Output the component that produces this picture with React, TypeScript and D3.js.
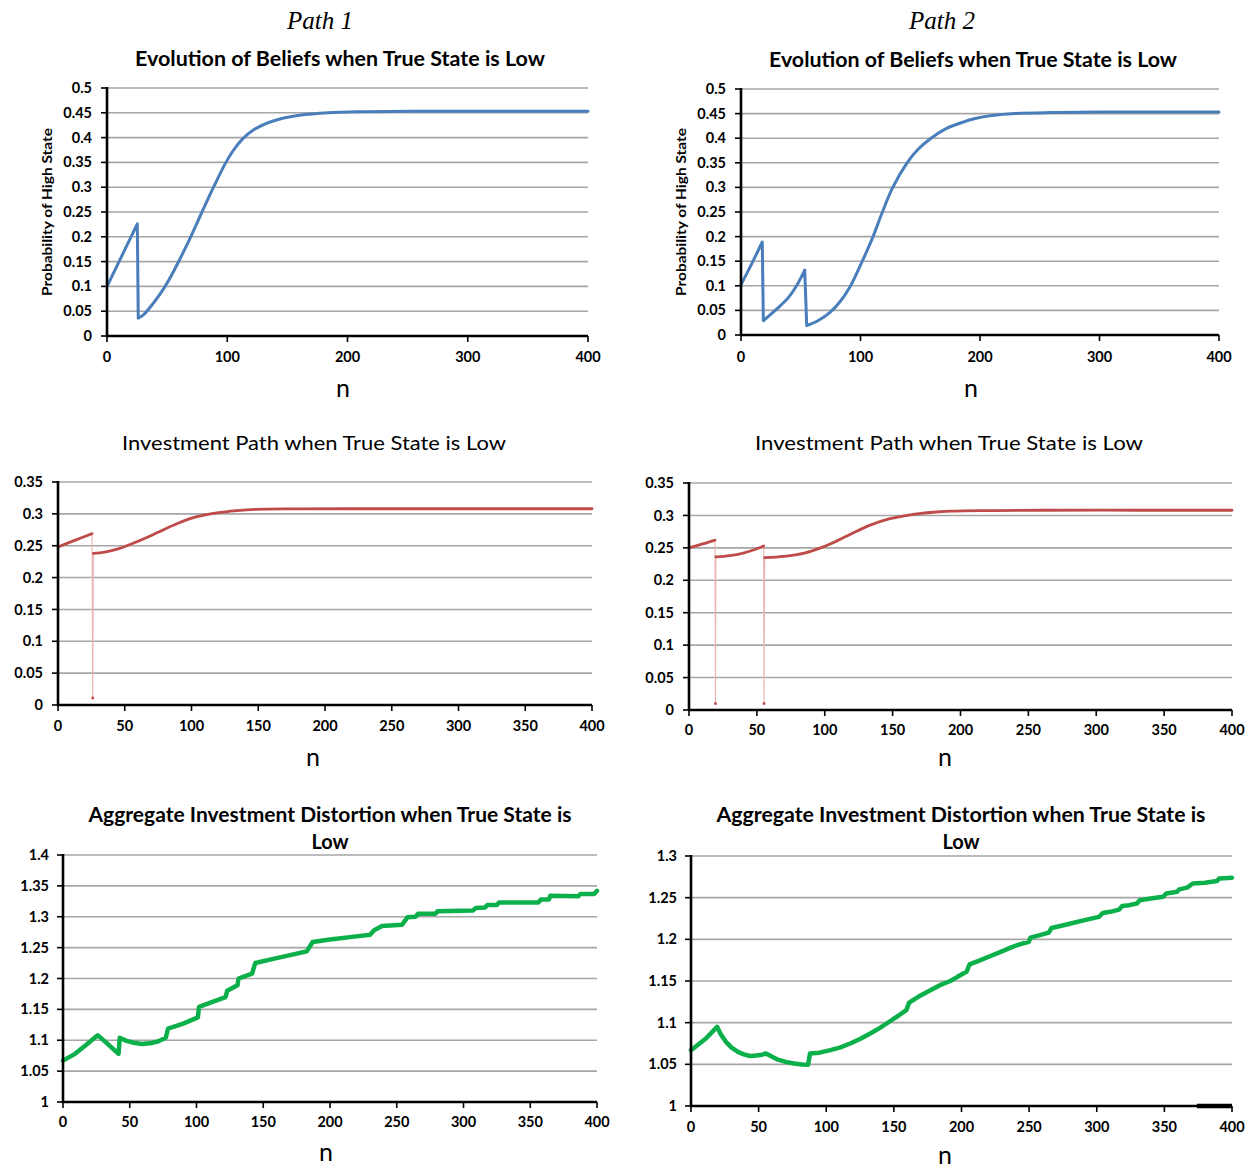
import React from 'react';
import * as d3 from 'd3';

// ---------- DATA ----------
const beliefTicks = [0, 0.05, 0.1, 0.15, 0.2, 0.25, 0.3, 0.35, 0.4, 0.45, 0.5];
const investTicks = [0, 0.05, 0.1, 0.15, 0.2, 0.25, 0.3, 0.35];
const agg1Ticks = [1, 1.05, 1.1, 1.15, 1.2, 1.25, 1.3, 1.35, 1.4];
const agg2Ticks = [1, 1.05, 1.1, 1.15, 1.2, 1.25, 1.3];
const xTicks100 = [0, 100, 200, 300, 400];
const xTicks50 = [0, 50, 100, 150, 200, 250, 300, 350, 400];

const beliefs1N = [0, 5, 10, 15, 20, 25.2, 26, 30, 38.5, 47, 54, 61, 70, 79, 89, 98, 105, 113, 122, 135, 148, 160, 184, 210, 260, 330, 400];
const beliefs1V = [0.1, 0.125, 0.15, 0.175, 0.2, 0.226, 0.036, 0.042, 0.066, 0.095, 0.124, 0.157, 0.202, 0.25, 0.302, 0.346, 0.374, 0.398, 0.416, 0.431, 0.44, 0.445, 0.45, 0.452, 0.453, 0.453, 0.453];

const beliefs2N = [0, 9, 17.8, 18.7, 30, 39.6, 46, 53.3, 55, 65, 74.5, 83, 91, 99.6, 105, 110.5, 118, 127, 139, 148, 159, 172, 185, 196, 210, 229, 260, 300, 400];
const beliefs2V = [0.102, 0.145, 0.189, 0.029, 0.053, 0.076, 0.098, 0.132, 0.019, 0.03, 0.046, 0.068, 0.097, 0.14, 0.169, 0.2, 0.248, 0.3, 0.35, 0.377, 0.4, 0.42, 0.432, 0.44, 0.446, 0.45, 0.452, 0.453, 0.453];

const invest1N = [0, 12, 25.5, 26, 26.5, 35, 45, 60, 75, 89, 104, 119, 134, 148, 178, 220, 300, 400];
const invest1V = [0.248, 0.258, 0.269, 0.011, 0.238, 0.24, 0.245, 0.257, 0.271, 0.2845, 0.2955, 0.3015, 0.305, 0.307, 0.3078, 0.308, 0.308, 0.308];

const invest2N = [0, 10, 19.2, 19.5, 19.8, 30, 40, 48, 55, 55.3, 55.8, 70, 85, 97, 104, 119, 133.5, 148, 163, 178, 193, 222, 260, 330, 400];
const invest2V = [0.25, 0.256, 0.262, 0.01, 0.236, 0.238, 0.242, 0.247, 0.253, 0.01, 0.235, 0.237, 0.242, 0.25, 0.256, 0.271, 0.285, 0.295, 0.301, 0.3045, 0.3065, 0.3075, 0.308, 0.308, 0.308];

const agg1N = [0, 9, 17, 26, 33, 41.6, 42.5, 47.5, 53, 59, 65, 71, 77, 78.7, 90, 101, 101.9, 112, 121.8, 123, 130.7, 131.5, 141.6, 144, 160, 182.6, 187, 200, 215, 230, 233, 239, 254, 258, 264, 266, 279, 280.6, 307, 309, 316, 318, 325, 326.6, 356, 358, 364, 365, 386, 387.6, 398, 400];
const agg1V = [1.067, 1.078, 1.092, 1.108, 1.095, 1.078, 1.104, 1.099, 1.096, 1.094, 1.095, 1.098, 1.104, 1.119, 1.127, 1.137, 1.154, 1.162, 1.17, 1.18, 1.189, 1.2, 1.208, 1.225, 1.233, 1.244, 1.259, 1.263, 1.267, 1.271, 1.278, 1.285, 1.287, 1.299, 1.3, 1.305, 1.305, 1.309, 1.31, 1.314, 1.315, 1.319, 1.319, 1.323, 1.323, 1.328, 1.328, 1.334, 1.333, 1.337, 1.337, 1.342];

const agg2N = [0, 11, 19.3, 22, 25.8, 30, 34.7, 39, 43.6, 48, 52.5, 55.4, 60, 64.3, 70, 76.2, 82, 86.6, 88, 95, 103, 110, 117.7, 125, 132.5, 140, 147.4, 153, 159.2, 161.3, 168, 177, 184, 191.8, 197, 203.7, 206, 214, 221.5, 229, 236.3, 243, 249.7, 251, 258, 264.5, 266.6, 273, 280.8, 291, 301.6, 304.5, 310, 316.4, 318.8, 324, 329.7, 331.8, 340, 349, 351.4, 359.4, 360.9, 366.8, 371, 380, 389, 390.5, 400];
const agg2V = [1.067, 1.081, 1.095, 1.086, 1.077, 1.07, 1.065, 1.062, 1.06, 1.0605, 1.0616, 1.063, 1.059, 1.0556, 1.053, 1.051, 1.0498, 1.0496, 1.063, 1.064, 1.067, 1.07, 1.075, 1.0805, 1.087, 1.094, 1.102, 1.108, 1.115, 1.124, 1.131, 1.139, 1.145, 1.15, 1.155, 1.161, 1.17, 1.175, 1.18, 1.185, 1.19, 1.194, 1.197, 1.202, 1.205, 1.208, 1.2136, 1.216, 1.219, 1.223, 1.227, 1.2316, 1.233, 1.2356, 1.24, 1.241, 1.243, 1.247, 1.249, 1.251, 1.255, 1.257, 1.26, 1.262, 1.267, 1.268, 1.27, 1.273, 1.274];

const beliefTitle = ['Evolution of Beliefs when True State is Low'];
const investTitle = ['Investment Path when True State is Low'];
const aggTitle = ['Aggregate Investment Distortion when True State is', 'Low'];
const yAxisTitle = 'Probability of High State';
const xAxisTitle = 'n';
const pathTitles = ['Path 1', 'Path 2'];

// ---------- STYLE ----------
const FONT = "Lato, 'Open Sans', 'Noto Sans', sans-serif";
const BLUE = '#4a7ebb';
const RED = '#be4b48';
const GREEN = '#0cb04a';
const GRID = '#a6a6a6';

type Pt = [number, number];
type Cfg = {
  key: string;
  left: number; right: number; top: number; bottom: number;
  yDomain: [number, number];
  yTicks: number[];
  xTicks: number[];
  title: string[];
  titleX: number; titleY: number; titleWeight: number; titleLen: number;
  yLabelX?: number;
  labelRight: number;
  xLabelY: number;
  nX: number; nY: number;
  n: number[]; v: number[];
  kind: 'belief' | 'invest' | 'agg';
  thickFrom?: number;
};

const fmt = d3.format('~g');

function splitAtDrops(pts: Pt[]): Pt[][] {
  const segs: Pt[][] = [];
  let cur: Pt[] = [];
  pts.forEach((p, i) => {
    if (i > 0 && pts[i - 1][1] - p[1] > 0.08 && p[0] - pts[i - 1][0] < 2.5) {
      segs.push(cur);
      cur = [];
    }
    cur.push(p);
  });
  segs.push(cur);
  return segs;
}

function Panel({ c }: { c: Cfg }) {
  const x = d3.scaleLinear().domain([0, 400]).range([c.left, c.right]);
  const y = d3.scaleLinear().domain(c.yDomain).range([c.bottom, c.top]);
  const pts: Pt[] = c.n.map((n, i) => [n, c.v[i]]);
  const smooth = d3.line<Pt>().x((d) => x(d[0])).y((d) => y(d[1])).curve(d3.curveCatmullRom.alpha(0.5));
  const straight = d3.line<Pt>().x((d) => x(d[0])).y((d) => y(d[1]));

  let marks: React.ReactNode = null;
  if (c.kind === 'belief') {
    const segs = splitAtDrops(pts);
    const d = segs.map((s, i) => {
      const body = smooth(s) || '';
      if (i === 0) return body;
      const prev = segs[i - 1][segs[i - 1].length - 1];
      return `L${x(prev[0])},${y(prev[1])}L${x(s[0][0])},${y(s[0][1])}` + body.replace(/^M/, 'L');
    }).join('');
    marks = <path d={d} fill="none" stroke={BLUE} strokeWidth={3} strokeLinejoin="round" strokeLinecap="round" />;
  } else if (c.kind === 'agg') {
    marks = <path d={straight(pts) || ''} fill="none" stroke={GREEN} strokeWidth={4.5} strokeLinejoin="round" strokeLinecap="round" />;
  } else {
    const segs: Pt[][] = [];
    const dips: { prev: Pt; dip: Pt; next: Pt }[] = [];
    let cur: Pt[] = [];
    pts.forEach((p, i) => {
      if (p[1] < 0.05) {
        dips.push({ prev: pts[i - 1], dip: p, next: pts[i + 1] });
        segs.push(cur);
        cur = [];
      } else cur.push(p);
    });
    segs.push(cur);
    marks = (
      <g>
        {dips.map((d, i) => (
          <g key={'d' + i}>
            <path d={straight([d.prev, d.dip, d.next]) || ''} fill="none" stroke="#ebb4b2" strokeWidth={1.1} />
            <rect x={x(d.dip[0]) - 1.3} y={y(d.dip[1]) - 1.3} width={2.6} height={2.6} fill={RED} />
          </g>
        ))}
        {segs.map((s, i) => (
          <path key={'s' + i} d={smooth(s) || ''} fill="none" stroke={RED} strokeWidth={2.8} strokeLinejoin="round" strokeLinecap="round" />
        ))}
      </g>
    );
  }

  return (
    <g>
      {c.yTicks.filter((t) => t !== c.yDomain[0]).map((t) => (
        <line key={'g' + t} x1={c.left} x2={c.right} y1={y(t)} y2={y(t)} stroke={GRID} strokeWidth={1.6} />
      ))}
      {c.yTicks.map((t) => (
        <g key={'y' + t}>
          <line x1={c.left - 6} x2={c.left} y1={y(t)} y2={y(t)} stroke="#000" strokeWidth={1.6} />
          <text x={c.labelRight} y={y(t)} dy="0.35em" textAnchor="end" fontFamily={FONT} fontWeight={700} fontSize={14.5} fill="#000">{fmt(t)}</text>
        </g>
      ))}
      {c.xTicks.map((t) => (
        <g key={'x' + t}>
          <line x1={x(t)} x2={x(t)} y1={c.bottom} y2={c.bottom + 6} stroke="#000" strokeWidth={1.6} />
          <text x={x(t)} y={c.xLabelY} dy="0.35em" textAnchor="middle" fontFamily={FONT} fontWeight={700} fontSize={14.5} fill="#000">{fmt(t)}</text>
        </g>
      ))}
      {marks}
      <line x1={c.left} x2={c.left} y1={c.top - 1} y2={c.bottom + 1} stroke="#000" strokeWidth={2.6} />
      <line x1={c.left - 1} x2={c.right} y1={c.bottom} y2={c.bottom} stroke="#000" strokeWidth={2.6} />
      {c.thickFrom !== undefined && (
        <line x1={x(c.thickFrom)} x2={c.right} y1={c.bottom} y2={c.bottom} stroke="#000" strokeWidth={4.5} />
      )}
      {c.title.map((t, i) => (
        <text key={'t' + i} x={c.titleX} y={c.titleY + i * 27} dy="0.35em" textAnchor="middle" fontFamily={FONT} fontWeight={c.titleWeight} fontSize={20}
          fill="#000" textLength={i === 0 ? c.titleLen : undefined} lengthAdjust="spacingAndGlyphs">{t}</text>
      ))}
      {c.yLabelX !== undefined && (
        <text transform={`translate(${c.yLabelX},${(c.top + c.bottom) / 2}) rotate(-90)`} dy="0.35em" textAnchor="middle" fontFamily={FONT} fontWeight={700}
          fontSize={13.5} fill="#000" textLength={168} lengthAdjust="spacingAndGlyphs">{yAxisTitle}</text>
      )}
      <text x={c.nX} y={c.nY} dy="0.35em" textAnchor="middle" fontFamily={FONT} fontSize={25} fill="#000">{xAxisTitle}</text>
    </g>
  );
}

const panels: Cfg[] = [
  { key: 'b1', left: 107, right: 588, top: 88, bottom: 336, yDomain: [0, 0.5], yTicks: beliefTicks, xTicks: xTicks100, title: beliefTitle,
    titleX: 340, titleY: 59, titleWeight: 700, titleLen: 410, yLabelX: 47, labelRight: 92, xLabelY: 357, nX: 343, nY: 388, n: beliefs1N, v: beliefs1V, kind: 'belief' },
  { key: 'b2', left: 741, right: 1219, top: 89, bottom: 335, yDomain: [0, 0.5], yTicks: beliefTicks, xTicks: xTicks100, title: beliefTitle,
    titleX: 973, titleY: 60, titleWeight: 700, titleLen: 408, yLabelX: 681, labelRight: 726, xLabelY: 357, nX: 971, nY: 388, n: beliefs2N, v: beliefs2V, kind: 'belief' },
  { key: 'i1', left: 58, right: 592, top: 482, bottom: 705, yDomain: [0, 0.35], yTicks: investTicks, xTicks: xTicks50, title: investTitle,
    titleX: 314, titleY: 443, titleWeight: 400, titleLen: 384, labelRight: 43, xLabelY: 726, nX: 313, nY: 757, n: invest1N, v: invest1V, kind: 'invest' },
  { key: 'i2', left: 689, right: 1232, top: 483, bottom: 710, yDomain: [0, 0.35], yTicks: investTicks, xTicks: xTicks50, title: investTitle,
    titleX: 949, titleY: 443, titleWeight: 400, titleLen: 388, labelRight: 674, xLabelY: 730, nX: 945, nY: 757, n: invest2N, v: invest2V, kind: 'invest' },
  { key: 'a1', left: 63, right: 597, top: 855, bottom: 1102, yDomain: [1, 1.4], yTicks: agg1Ticks, xTicks: xTicks50, title: aggTitle,
    titleX: 330, titleY: 815, titleWeight: 700, titleLen: 483, labelRight: 49, xLabelY: 1122, nX: 326, nY: 1152, n: agg1N, v: agg1V, kind: 'agg' },
  { key: 'a2', left: 691, right: 1232, top: 856, bottom: 1106, yDomain: [1, 1.3], yTicks: agg2Ticks, xTicks: xTicks50, title: aggTitle,
    titleX: 961, titleY: 815, titleWeight: 700, titleLen: 489, labelRight: 677, xLabelY: 1127, nX: 945, nY: 1155, n: agg2N, v: agg2V, kind: 'agg', thickFrom: 374 },
];

export default function App() {
  return (
    <svg width={1259} height={1170} viewBox="0 0 1259 1170" style={{ position: 'absolute', left: 0, top: 0, background: '#fff' }}>
      <rect x={0} y={0} width={1259} height={1170} fill="#fff" />
      <text x={320} y={20} dy="0.35em" textAnchor="middle" fontFamily="'Liberation Serif', 'DejaVu Serif', serif" fontStyle="italic" fontSize={25} fill="#000">{pathTitles[0]}</text>
      <text x={942} y={20} dy="0.35em" textAnchor="middle" fontFamily="'Liberation Serif', 'DejaVu Serif', serif" fontStyle="italic" fontSize={25} fill="#000">{pathTitles[1]}</text>
      {panels.map((c) => <Panel key={c.key} c={c} />)}
    </svg>
  );
}
